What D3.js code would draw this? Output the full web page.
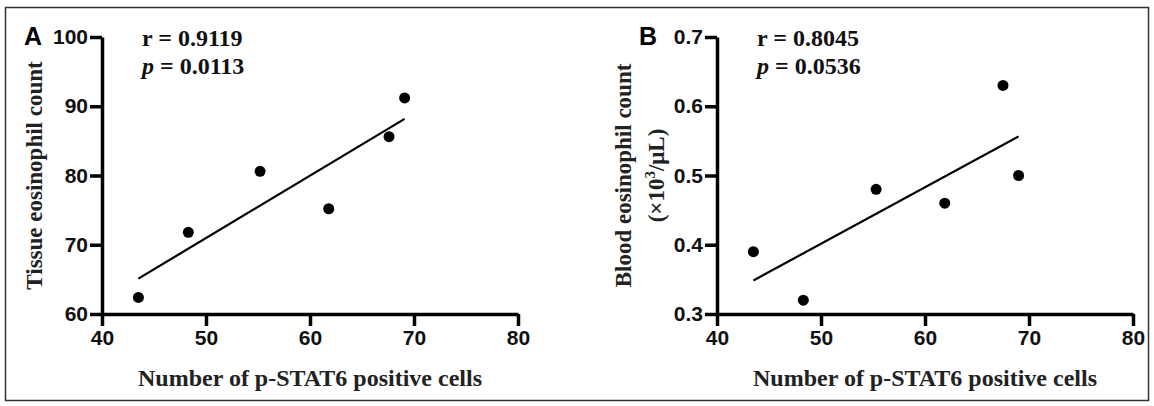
<!DOCTYPE html>
<html>
<head>
<meta charset="utf-8">
<script src="https://cdn.jsdelivr.net/npm/d3@7"></script>
<style>
  body { margin: 0; background: #fff; }
  .lbl { font-family: "Liberation Serif", "Times New Roman", serif; font-weight: bold; }
</style>
</head>
<body>
<svg width="1154" height="406"></svg>
<script>
var svg = d3.select('svg')

// p-STAT6 positive cells (same samples in both panels)
var stat6A = [43.5, 48.3, 55.2, 61.8, 67.6, 69.1]
var tissueEos = [62.4, 71.8, 80.6, 75.2, 85.6, 91.2]

var stat6B = [43.5, 48.3, 55.3, 61.9, 67.5, 69.0]
var bloodEos = [0.39, 0.32, 0.48, 0.46, 0.63, 0.50]

var xTicks = [40, 50, 60, 70, 80]
var yTicksA = [60, 70, 80, 90, 100]
var yTicksB = [0.3, 0.4, 0.5, 0.6, 0.7]

var panels = [
  {letter: 'A', left: 102, xs: stat6A, ys: tissueEos, yDomain: [60, 100], yTicks: yTicksA, fmt: d3.format('d'),
   r: 'r = 0.9119', p: '= 0.0113', yLabel: ['Tissue eosinophil count']},
  {letter: 'B', left: 717, xs: stat6B, ys: bloodEos, yDomain: [0.3, 0.7], yTicks: yTicksB, fmt: d3.format('.1f'),
   r: 'r = 0.8045', p: '= 0.0536', yLabel: ['Blood eosinophil count', 'unit']}
]

var plotTop = 37, plotBottom = 314, plotW = 416

// outer frame
svg.append('rect')
  .attr('x', 5.5).attr('y', 7.5)
  .attr('width', 1143).attr('height', 393)
  .attr('fill', 'none').attr('stroke', '#333').attr('stroke-width', 1.5)

panels.forEach(function(P) {
  var x = d3.scaleLinear().domain([40, 80]).range([P.left, P.left + plotW])
  var y = d3.scaleLinear().domain(P.yDomain).range([plotBottom, plotTop])
  var g = svg.append('g')

  //Axes
  var xa = g.append('g').attr('transform', 'translate(0,' + plotBottom + ')')
    .call(d3.axisBottom(x).tickValues(xTicks).tickSize(12).tickSizeOuter(0).tickPadding(4))
  var ya = g.append('g').attr('transform', 'translate(' + P.left + ',0)')
    .call(d3.axisLeft(y).tickValues(P.yTicks).tickFormat(P.fmt).tickSize(12).tickSizeOuter(0).tickPadding(2))
  ;[xa, ya].forEach(function(a) {
    a.attr('font-family', '"Liberation Sans", Arial, sans-serif').attr('font-size', 21).attr('font-weight', 'bold')
    a.select('.domain').attr('stroke', '#000').attr('stroke-width', 3.5)
    a.selectAll('.tick line').attr('stroke', '#000').attr('stroke-width', 3.5)
    a.selectAll('.tick text').attr('fill', '#111')
  })

  //Regression line
  var mx = d3.mean(P.xs), my = d3.mean(P.ys)
  var sxy = d3.sum(P.xs, function(v, i) { return (v - mx) * (P.ys[i] - my) })
  var sxx = d3.sum(P.xs, function(v) { return (v - mx) * (v - mx) })
  var b = sxy / sxx, a0 = my - b * mx
  var ext = d3.extent(P.xs)
  g.append('line')
    .attr('x1', x(ext[0])).attr('y1', y(a0 + b * ext[0]))
    .attr('x2', x(ext[1])).attr('y2', y(a0 + b * ext[1]))
    .attr('stroke', '#000').attr('stroke-width', 2.2)

  //Points
  g.selectAll('circle.pt')
    .data(P.xs.map(function(v, i) { return [v, P.ys[i]] }))
    .enter().append('circle')
    .attr('cx', function(d) { return x(d[0]) })
    .attr('cy', function(d) { return y(d[1]) })
    .attr('r', 5.5).attr('fill', '#000')

  //Panel letter
  g.append('text').text(P.letter)
    .attr('x', P.left - 78).attr('y', 45)
    .attr('font-family', '"Liberation Sans", Arial, sans-serif')
    .attr('font-weight', 'bold').attr('font-size', 25).attr('fill', '#000')

  //Stats
  g.append('text').attr('class', 'lbl').text(P.r)
    .attr('x', P.left + 40).attr('y', 46).attr('font-size', 24).attr('fill', '#111')
  var pt = g.append('text').attr('class', 'lbl')
    .attr('x', P.left + 40).attr('y', 74).attr('font-size', 24).attr('fill', '#111')
  pt.append('tspan').attr('font-style', 'italic').text('p')
  pt.append('tspan').text(' ' + P.p)

  //X label
  g.append('text').attr('class', 'lbl').text('Number of p-STAT6 positive cells')
    .attr('x', P.left + plotW / 2).attr('y', 386).attr('text-anchor', 'middle')
    .attr('font-size', 24).attr('fill', '#222')

  //Y label
  var cy = (plotTop + plotBottom) / 2
  if (P.yLabel.length === 1) {
    g.append('text').attr('class', 'lbl').text(P.yLabel[0])
      .attr('transform', 'translate(' + (P.left - 60) + ',' + cy + ') rotate(-90)')
      .attr('text-anchor', 'middle').attr('font-size', 23).attr('fill', '#222')
  } else {
    g.append('text').attr('class', 'lbl').text(P.yLabel[0])
      .attr('transform', 'translate(' + (P.left - 86) + ',' + cy + ') rotate(-90)')
      .attr('text-anchor', 'middle').attr('font-size', 23).attr('fill', '#222')
    var u = g.append('text').attr('class', 'lbl')
      .attr('transform', 'translate(' + (P.left - 53) + ',' + cy + ') rotate(-90)')
      .attr('text-anchor', 'middle').attr('font-size', 23).attr('fill', '#222')
    u.append('tspan').text('(×10')
    u.append('tspan').attr('dy', -9).attr('font-size', 15).text('3')
    u.append('tspan').attr('dy', 9).text('/μL)')
  }
})
</script>
</body>
</html>
